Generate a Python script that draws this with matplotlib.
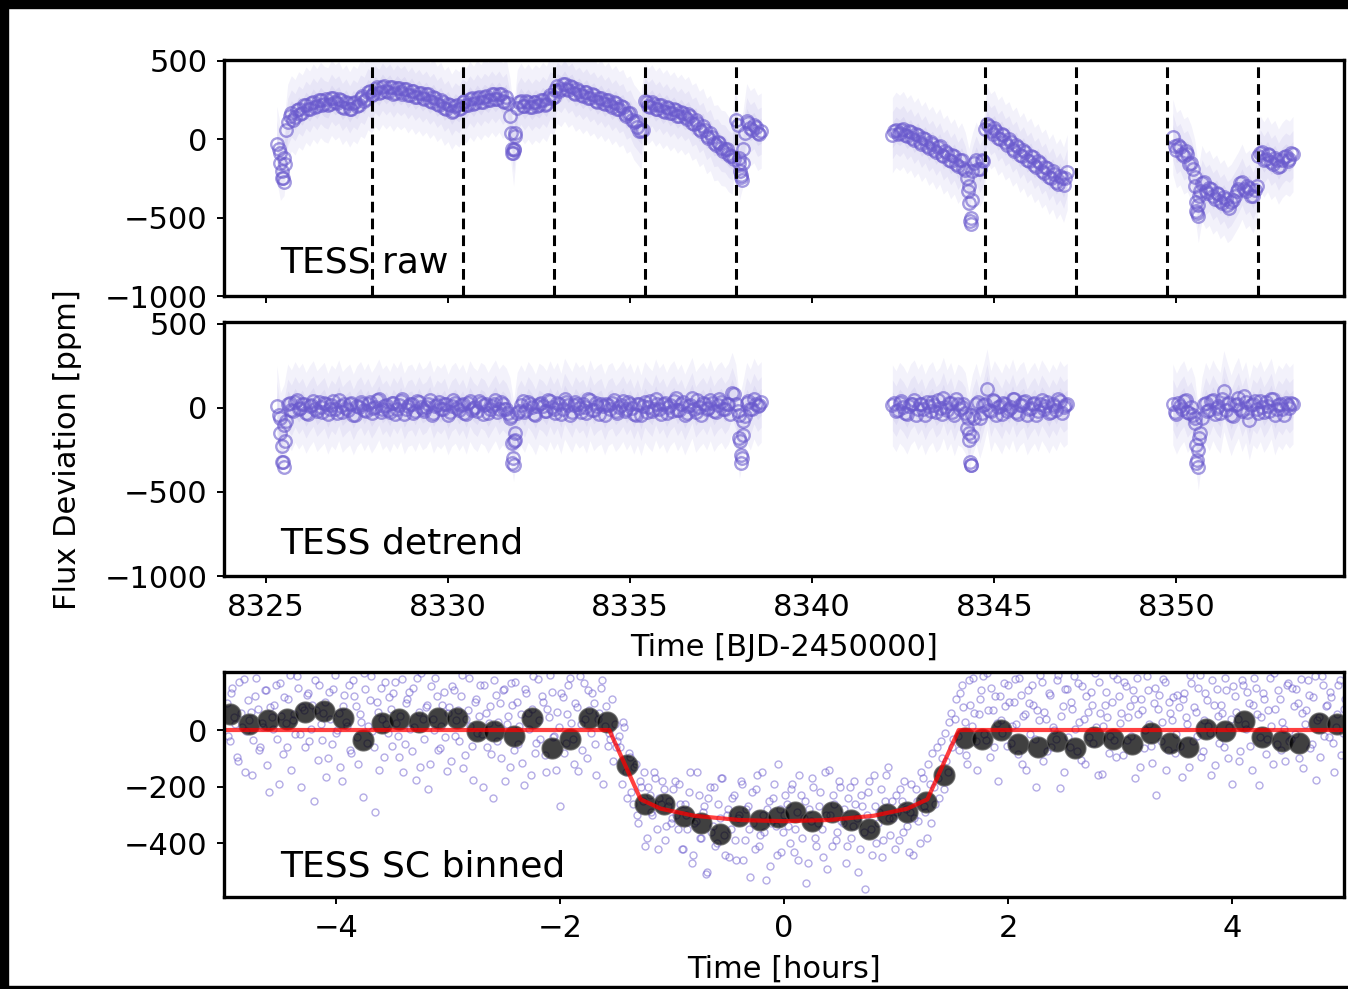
import numpy as np
import matplotlib
matplotlib.use("Agg")
import matplotlib.pyplot as plt
from matplotlib.patches import Rectangle

# ---------------- data (ppm) ----------------
# TESS raw light curve, binned points every 0.1 d (set a) and shifted by 0.05 d (set b)
seg1_start = 8325.3
seg2_start = 8342.2
seg3_start = 8349.9

raw_seg1 = [-30, -150, -120, 110, 165, 140, 190, 170, 220, 195,
            240, 210, 250, 225, 215, 265, 235, 255, 205, 235,
            190, 230, 210, 260, 245, 300, 280, 320, 295, 335,
            305, 330, 290, 325, 300, 320, 280, 310, 270, 295,
            260, 285, 245, 270, 225, 250, 200, 225, 175, 210,
            190, 235, 215, 255, 225, 265, 235, 270, 250, 285,
            255, 285, 245, 270, 150, -60, 200, 245, 210, 240,
            205, 235, 215, 250, 225, 280, 270, 340, 320, 355,
            315, 335, 290, 310, 275, 300, 260, 280, 240, 265,
            225, 250, 205, 230, 190, 205, 150, 165, 110, 80,
            50, 245, 210, 235, 195, 220, 180, 205, 165, 190,
            150, 175, 140, 160, 105, 120, 65, 85, 20, 40,
            -25, -20, -55, -60, -95, -110, 120, -150, -60, 115,
            70, 90, 40, 55]
raw_seg1_b = [-60, -250, 60, 150, 125, 185, 160, 215, 195, 230,
              205, 250, 220, 255, 225, 260, 230, 250, 200, 230,
              195, 240, 220, 275, 255, 305, 285, 330, 300, 340,
              300, 335, 295, 325, 290, 320, 280, 305, 270, 295,
              255, 285, 240, 265, 215, 240, 190, 215, 180, 220,
              200, 245, 220, 260, 230, 270, 240, 275, 250, 290,
              255, 290, 240, 230, -90, 40, 235, 210, 245, 205,
              240, 210, 250, 220, 265, 260, 315, 310, 350, 320,
              340, 295, 320, 280, 300, 265, 285, 245, 265, 230,
              250, 215, 235, 190, 210, 160, 170, 120, 115, 50,
              60, 240, 205, 225, 190, 215, 175, 200, 165, 185,
              150, 170, 130, 145, 95, 105, 50, 60, 5, 15,
              -40, -25, -75, -60, -110, -125, 90, -230, 40, 105,
              60, 80, 35]
raw_seg2 = [25, 60, 40, 65, 20, 45, -5, 25, -30, 0,
            -55, -30, -80, -45, -110, -85, -140, -110, -170, -135,
            -195, -300, -200, -130, -190, -140, 100, 50, 70, 10,
            35, -20, 0, -60, -35, -100, -70, -130, -105, -165,
            -140, -200, -175, -240, -205, -270, -235, -290, -210]
raw_seg2_b = [55, 30, 60, 25, 50, 5, 30, -20, 5, -45,
              -20, -70, -50, -100, -75, -130, -100, -160, -130, -185,
              -250, -500, -150, -190, -135, 65, 85, 30, 50, 0,
              25, -35, -15, -75, -50, -105, -80, -140, -115, -175,
              -150, -215, -185, -250, -220, -285, -245, -250]
raw_seg3 = [15, -70, -50, -110, -95, -150, -240, -420, -280, -330,
            -310, -365, -340, -395, -370, -420, -400, -360, -320, -270,
            -330, -310, -360, -300, -90, -130, -95, -145, -120, -175,
            -135, -110, -125, -95]
raw_seg3_b = [-45, -40, -95, -75, -160, -190, -460, -330, -270, -345,
              -320, -380, -350, -410, -380, -440, -390, -330, -280, -315,
              -300, -360, -325, -110, -80, -125, -100, -160, -130, -170,
              -115, -140, -90]

# detrended light curve on the same time grids
det_seg1 = [10, -150, -100, 20, -15, 35, -5, 25, -30, 10,
            40, -20, 5, 30, -35, 15, -10, 45, -25, 0,
            20, -40, 10, 35, -15, 25, -30, 5, 50, -10,
            15, -25, 30, -5, 40, -35, 10, 20, -20, 35,
            -10, 5, 45, -30, 15, -5, 25, -40, 10, 30,
            -15, 20, -35, 40, 0, -20, 30, 15, -30, 10,
            45, -10, 20, -5, -60, -200, -30, 15, -25, 35,
            5, -40, 25, 10, -20, 40, -10, 30, -35, 55,
            15, -25, 35, 0, 20, -30, 45, -15, 10, 25,
            -40, 15, 30, -20, 5, 40, -10, 25, -35, 20,
            -45, 35, 5, -20, 50, -5, 25, -30, 15, 40,
            -15, 20, -40, 10, 60, -25, 5, 30, -10, 45,
            -20, 15, 35, -5, 25, 90, 20, -180, -80, 30,
            -10, 55, 10, 35]
det_seg1_b = [-40, -320, -80, 30, -20, 45, 0, 25, -35, 15,
              -10, 35, -25, 20, -5, 40, -30, 10, 25, -15,
              30, -45, 5, 20, -20, 35, 0, 45, -25, 10,
              -15, 30, -35, 15, 50, -5, 20, -30, 40, 5,
              -20, 25, -40, 10, 35, -10, 20, -25, 45, 0,
              15, -30, 30, -15, 5, 40, -35, 20, -5, 25,
              -25, 35, -10, -30, -330, -190, -20, 40, -15, 25,
              -35, 10, 30, -20, 45, 5, -30, 20, -10, 35,
              -40, 15, 25, -25, 5, 50, -15, 30, -35, 10,
              20, -5, 45, -30, 15, -20, 35, 0, -45, 25,
              10, -25, 40, -10, 20, -35, 30, 5, -20, 60,
              -15, 35, -30, 15, -5, 45, -40, 20, 0, 30,
              -25, 50, -10, 25, -35, 80, -20, -330, -50, 40,
              -5, 25, 15]
det_seg2 = [15, -20, 30, 5, -35, 20, 45, -10, 25, -40,
            10, 35, -25, 0, 60, -15, 30, -45, 20, 5,
            -30, -150, -40, 25, -60, 15, 110, -20, 40, 5,
            -35, 25, -10, 50, -25, 15, 35, -40, 0, 30,
            -20, 45, 10, -30, 20, -15, 40, 5, 25]
det_seg2_b = [30, -15, 40, -30, 10, 25, -40, 20, -5, 35,
              -20, 15, 45, -35, 5, 30, -25, 50, -10, 20,
              -120, -340, -60, 35, -30, 20, -15, 45, -40, 10,
              30, -20, 5, 55, -35, 15, 40, -10, 25, -45,
              20, -5, 35, -25, 10, 50, -30, 15]
det_seg3 = [20, -35, 10, 40, -25, 5, -60, -250, -60, 30,
            -15, 45, 0, -30, 100, 25, -45, 15, 60, -20,
            35, -70, 20, -5, 40, -25, 10, 55, -40, 15,
            -10, 30, 0, 25]
det_seg3_b = [-25, 30, -10, 45, -30, -40, -330, -150, 25, -20,
              40, -35, 10, 55, -15, 30, -50, 20, -5, 70,
              -25, 15, 40, -30, 5, 35, -20, 50, -10, 25,
              -40, 15, 30]

# in-transit points (5 transits)
transit_t = [8325.40, 8325.43, 8325.46, 8325.49, 8325.52,
             8331.72, 8331.75, 8331.78, 8331.81, 8331.84,
             8337.98, 8338.01, 8338.04, 8338.07, 8338.10,
             8344.27, 8344.30, 8344.33, 8344.36, 8344.39,
             8350.51, 8350.54, 8350.57, 8350.60, 8350.63]
transit_raw = [-90, -200, -250, -270, -160, 40, -60, -90, -70, 20,
               -120, -200, -240, -260, -150, -330, -410, -520, -540, -390,
               -300, -400, -470, -490, -360]
transit_det = [-60, -230, -320, -350, -200, -50, -210, -300, -340, -150,
               -40, -200, -280, -300, -160, -60, -190, -320, -340, -170,
               -90, -220, -310, -350, -180]

# segment boundaries (dashed lines)
breaks = [8327.9, 8330.4, 8332.9, 8335.4, 8337.9, 8344.73, 8347.23, 8349.75, 8352.23]

# phase folded short cadence data, every 0.025 h (set a from -4.975 h, set b from -4.9625 h)
sc_start = -4.975
sc_flux = [95, -40, 150, 20, -110, 60, 180, -5, 35, -160, 120, 75, -60, 10, 140, -220, 45, 90, -30, 165,
           -85, 25, 110, -140, 55, 190, -15, 80, -60, 130, 5, -250, 70, 160, -35, 100, -100, 40, 145, -10,
           60, -180, 125, 15, -70, 175, 85, -120, 30, 200, -45, 105, -5, -290, 65, 150, -95, 20, 115, -55,
           170, -20, 50, -150, 95, 135, -75, 10, 185, -130, 40, 80, -210, 155, 0, 120, -65, 90, -25, 60,
           -110, 140, 35, -40, 195, -90, 70, 15, -175, 110, 50, -15, 160, -60, 85, -240, 125, 30, -100, 145,
           20, -130, 90, 170, -50, 55, -195, 130, 5, 75, -80, 180, -30, 100, -150, 45, 135, -20, 65, -270,
           115, -45, 160, 25, -120, 80, 190, -70, 40, 140, -10, 95, -160, 60, 175, 15, -55, -30, -110, -60,
           -20, -190, 10, -240, -95, -260, -120, -330, -200, -150, -380, -230, -300, -170, -420, -260, -210, -340, -250, -310,
           -180, -350, -260, -420, -300, -220, -470, -330, -150, -380, -290, -510, -240, -360, -200, -400, -310, -170, -440, -280,
           -350, -230, -460, -300, -190, -390, -270, -520, -330, -210, -410, -150, -360, -280, -480, -240, -340, -120, -430, -300,
           -260, -400, -190, -350, -460, -230, -310, -540, -280, -170, -380, -330, -220, -450, -300, -140, -410, -260, -360, -200,
           -330, -470, -240, -380, -180, -310, -420, -270, -560, -220, -350, -160, -400, -290, -450, -250, -130, -370, -310, -230,
           -390, -250, -180, -340, -290, -440, -210, -320, -150, -270, -380, -190, -80, -260, -170, -40, -210, -110, 30, -60,
           40, -20, 130, 80, -90, 175, 15, 60, -140, 110, 190, -35, 70, 150, -60, 25, 120, -10, 85, 160,
           -45, 100, 20, 185, -120, 55, 140, -15, 90, -200, 35, 170, 65, -75, 125, 10, -30, 195, 50, -150,
           145, -60, 75, 5, 165, -105, 40, 120, -25, 90, 200, -160, 60, 15, 135, -80, 100, -35, 180, 25,
           -90, 155, 45, -20, 110, 185, -130, 70, 0, 140, -55, 95, -230, 125, 30, 170, -70, 60, 115, -15,
           80, -165, 130, 20, 195, -40, 65, 150, -95, 35, 105, -10, 175, -125, 50, 90, -60, 140, 10, -190,
           120, 40, -75, 160, 5, 95, -140, 185, 55, -25, 130, -85, 70, 15, 200, -50, 110, 30, -110, 165,
           -30, 85, 145, -100, 60, 20, 175, -65, 115, -175, 45, 190, -20, 90, 135, -45, 10, 160, -90, 75]
sc_flux_b = [-20, 130, 45, -95, 170, 10, -150, 105, 65, -35, 185, -70, 25, 140, -125, 80, 5, 160, -190, 50,
             115, -60, 195, 35, -15, 150, -200, 70, 125, -40, 90, 175, -105, 20, 60, -165, 135, -50, 195, 0,
             -130, 85, 30, 160, -80, 120, -25, 55, -235, 145, 15, 190, -60, 100, -140, 40, 170, -10, 75, 130,
             25, -95, 180, -50, 110, 5, 150, -175, 65, 200, -30, 90, -120, 40, 185, -70, 15, 135, -145, 80,
             155, -20, 70, 120, -135, 40, 185, -55, 100, -10, 160, -200, 60, 25, -85, 175, -40, 95, 140, -180,
             50, 165, -70, 100, 15, -115, 145, 60, -160, 190, -45, 35, 120, -90, 75, 195, -25, -140, 10, 130,
             -80, 55, 185, -30, 95, -145, 20, 165, -100, 70, 130, -50, 40, 150, -190, 85, -10, 110, 20, -40,
             -60, 30, -150, -80, -220, -130, -300, -180, -250, -410, -200, -290, -150, -350, -240, -180, -390, -270, -330, -210,
             -300, -190, -420, -260, -350, -150, -440, -320, -230, -380, -270, -500, -200, -340, -410, -260, -170, -370, -300, -450,
             -240, -390, -310, -180, -460, -280, -350, -220, -420, -160, -370, -300, -530, -250, -330, -190, -440, -280, -360, -230,
             -340, -210, -430, -290, -160, -380, -250, -470, -320, -200, -410, -270, -350, -150, -490, -300, -230, -390, -180, -320,
             -280, -410, -200, -340, -260, -500, -230, -360, -300, -180, -440, -270, -330, -210, -390, -160, -310, -250, -420, -290,
             -210, -360, -280, -430, -190, -310, -250, -400, -170, -290, -120, -330, -200, -60, -240, -100, -10, -150, 60, -30,
             110, -70, 160, 30, -120, 90, 185, -40, 55, 140, -15, 200, -95, 70, 120, -180, 35, 165, -55, 100,
             15, 180, -85, 125, 50, -140, 95, 160, -30, 70, 195, -110, 40, 130, -60, 0, 175, -205, 85, 145,
             -25, 100, 190, -75, 30, 155, -120, 65, 135, -45, 10, 170, -155, 90, 45, -20, 195, -95, 120, 60,
             170, -35, 85, 140, -170, 55, 110, -65, 190, 20, -115, 150, 75, -40, 180, -140, 100, 35, -80, 125,
             -55, 110, 45, -130, 165, 80, -20, 195, -75, 130, 15, -160, 90, 145, -45, 60, 185, -100, 40, 155,
             65, -110, 175, 20, 135, -55, 90, 150, -195, 45, 110, -30, 185, -120, 75, 140, -70, 5, 160, -40,
             150, -15, 95, 180, -135, 70, 125, -50, 190, 35, -95, 160, 85, -25, 115, -150, 55, 175, -10, 110]

# 10 minute bins
bin_t = [-4.95, -4.78, -4.61, -4.44, -4.28, -4.11, -3.94, -3.76, -3.59, -3.44,
         -3.26, -3.09, -2.92, -2.74, -2.59, -2.41, -2.25, -2.07, -1.91, -1.74,
         -1.58, -1.40, -1.24, -1.07, -0.89, -0.74, -0.57, -0.40, -0.21, -0.05,
         0.10, 0.25, 0.43, 0.60, 0.76, 0.92, 1.10, 1.27, 1.43, 1.62,
         1.77, 1.94, 2.09, 2.27, 2.44, 2.60, 2.77, 2.94, 3.11, 3.28,
         3.45, 3.61, 3.77, 3.94, 4.11, 4.27, 4.45, 4.60, 4.78, 4.94]
bin_f = [58, 23, 35, 38, 62, 68, 42, -37, 25, 40,
         30, 44, 44, -4, -4, -21, 42, -63, -33, 42,
         30, -125, -262, -260, -304, -327, -367, -305, -319, -307,
         -289, -321, -288, -319, -348, -298, -288, -256, -160, -29,
         -31, 0, -48, -60, -39, -65, -25, -33, -48, -9,
         -45, -60, 2, -4, 32, -25, -39, -45, 26, 20]

# transit model
model_t = [-5, -1.56, -1.28, -1.1, -0.8, -0.4, 0, 0.4, 0.8, 1.1, 1.28, 1.56, 5]
model_f = [0, 0, -245, -278, -303, -318, -322, -318, -303, -278, -245, 0, 0]

# ---------------- plot ----------------
W, H = 1348, 989
fig = plt.figure(figsize=(W / 100, H / 100), dpi=100)
fig.patch.set_facecolor("white")

ax1 = fig.add_axes([224 / W, 1 - 296 / H, 1120 / W, 236 / H])
ax2 = fig.add_axes([224 / W, 1 - 576 / H, 1120 / W, 254 / H])
ax3 = fig.add_axes([224 / W, 1 - 897 / H, 1120 / W, 225 / H])

col = "slateblue"
fs_tick = 22
fs_lab = 22
fs_txt = 26

raw_segs = [(seg1_start, raw_seg1, raw_seg1_b), (seg2_start, raw_seg2, raw_seg2_b),
            (seg3_start, raw_seg3, raw_seg3_b)]
det_segs = [(seg1_start, det_seg1, det_seg1_b), (seg2_start, det_seg2, det_seg2_b),
            (seg3_start, det_seg3, det_seg3_b)]

circ = dict(ls="none", marker="o", mfc="none", mec=col, mew=1.7, ms=9, alpha=0.6)

for ax, segs, tr in [(ax1, raw_segs, transit_raw), (ax2, det_segs, transit_det)]:
    for start, vals, vals_b in segs:
        v = np.array(vals, dtype=float)
        t = start + 0.1 * np.arange(len(v))
        vb = np.array(vals_b, dtype=float)
        tb = start + 0.05 + 0.1 * np.arange(len(vb))
        # faint unbinned cloud
        for w in [80, 150, 240]:
            ax.fill_between(t, v - w, v + w, color=col, alpha=0.08, lw=0)
        ax.plot(t, v, **circ)
        ax.plot(tb, vb, **circ)
    ax.plot(transit_t, tr, **circ)
    ax.set_xlim(8323.85, 8354.6)
    ax.set_yticks([500, 0, -500, -1000])

ax1.set_ylim(-1000, 505)
ax2.set_ylim(-1000, 510)
for b in breaks:
    ax1.axvline(b, color="k", lw=2.2, linestyle=(0, (3.5, 2)))
ax1.set_xticks([8325, 8330, 8335, 8340, 8345, 8350])
ax1.set_xticklabels([])
ax2.set_xticks([8325, 8330, 8335, 8340, 8345, 8350])
ax2.set_xlabel("Time [BJD-2450000]", fontsize=fs_lab, labelpad=8)

ax1.text(0.05, 0.10, "TESS raw", transform=ax1.transAxes, fontsize=fs_txt, va="baseline")
ax2.text(0.05, 0.09, "TESS detrend", transform=ax2.transAxes, fontsize=fs_txt, va="baseline")

# bottom panel
sc_a = np.array(sc_flux, dtype=float)
sc_b = np.array(sc_flux_b, dtype=float)
t_a = sc_start + 0.025 * np.arange(len(sc_a))
t_b = sc_start + 0.0125 + 0.025 * np.arange(len(sc_b))
small = dict(ls="none", marker="o", mfc="none", mec=col, mew=1.0, ms=5, alpha=0.5)
ax3.plot(t_a, sc_a, **small)
ax3.plot(t_b, sc_b, **small)
ax3.plot(bin_t, bin_f, "o", color="k", mec="0.35", ms=15, alpha=0.75)
ax3.plot(model_t, model_f, color="red", lw=3, alpha=0.75)
ax3.set_xlim(-5, 5)
ax3.set_ylim(-590, 205)
ax3.set_yticks([0, -200, -400])
ax3.set_xticks([-4, -2, 0, 2, 4])
ax3.set_xlabel("Time [hours]", fontsize=fs_lab, labelpad=9)
ax3.text(0.05, 0.093, "TESS SC binned", transform=ax3.transAxes, fontsize=fs_txt, va="baseline")

for ax in [ax1, ax2, ax3]:
    for s in ax.spines.values():
        s.set_linewidth(2.4)
    ax.tick_params(labelsize=fs_tick, length=5, width=1.4, direction="out", pad=7)

fig.text(68 / W, 1 - 450 / H, "Flux Deviation [ppm]", rotation=90, fontsize=fs_lab,
         ha="center", va="center")

# black frame of the screenshot
fig.patches.append(Rectangle((0, 0), 8 / W, 1, transform=fig.transFigure, color="k", zorder=10))
fig.patches.append(Rectangle((0, 1 - 8 / H), 1, 8 / H, transform=fig.transFigure, color="k", zorder=10))
fig.patches.append(Rectangle((0, 0), 1, 3 / H, transform=fig.transFigure, color="k", zorder=10))

fig.savefig("out.png", dpi=100)
